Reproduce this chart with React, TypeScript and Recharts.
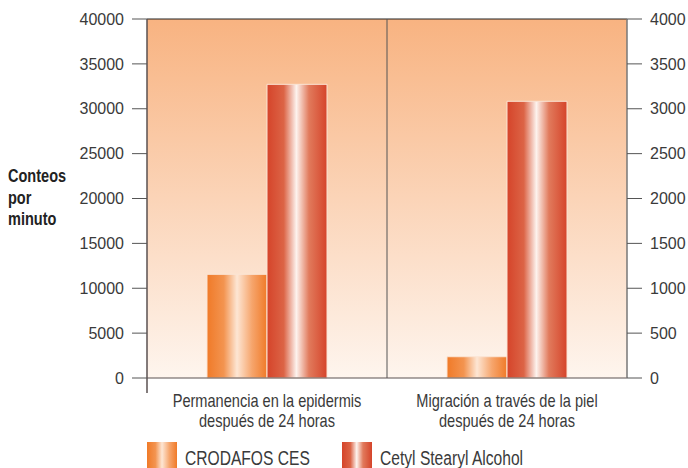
import React from "react";
import {
  BarChart,
  Bar,
  XAxis,
  YAxis,
  CartesianGrid,
  ReferenceLine,
} from "recharts";

const categories = [
  "Permanencia en la epidermis",
  "Migración a través de la piel",
];
const categorySubtitle = "después de 24 horas";
const categoryAxis = ["left", "right"]; // which count scale each group is read on
const seriesNames = ["CRODAFOS CES", "Cetyl Stearyl Alcohol"];
const crodafosValues = [11550, 237];
const cetylValues = [32720, 3083];
const leftTicks = [0, 5000, 10000, 15000, 20000, 25000, 30000, 35000, 40000];
const rightTicks = [0, 500, 1000, 1500, 2000, 2500, 3000, 3500, 4000];

const data = categories.map((name, i) => ({
  name,
  crodafosLeft: categoryAxis[i] === "left" ? crodafosValues[i] : null,
  crodafosRight: categoryAxis[i] === "right" ? crodafosValues[i] : null,
  cetylLeft: categoryAxis[i] === "left" ? cetylValues[i] : null,
  cetylRight: categoryAxis[i] === "right" ? cetylValues[i] : null,
}));

const W = 688;
const H = 468;
const PLOT_LEFT = 147;
const PLOT_RIGHT = 627;
const PLOT_TOP = 19;
const PLOT_BOTTOM = 378;

// no condensed face installed, so the regular one is squeezed horizontally
const SANS = '"Liberation Sans", Arial, sans-serif';
const TEXT = "#3a3a3a";

const CRODAFOS_GRAD =
  "linear-gradient(to right, #f07a28 0%, #f39450 28%, #fde6d4 50%, #f6a56c 75%, #f07a28 100%)";
const CETYL_GRAD =
  "linear-gradient(to right, #d5442a 0%, #dc6446 28%, #fdf3ee 49%, #e17a5c 70%, #d5442a 100%)";

const CategoryTick = (props: any) => {
  const { x, y, payload } = props;
  return (
    <text
      transform={`translate(${x},${y}) scale(0.81,1)`}
      textAnchor="middle"
      fill={TEXT}
      fontFamily={SANS}
      fontSize={18}
    >
      <tspan x={0} dy={29}>
        {payload.value}
      </tspan>
      <tspan x={0} dy={20.5}>
        {categorySubtitle}
      </tspan>
    </text>
  );
};

// left axis line runs a little below the baseline in the original
const AxisExtension = () => (
  <line
    x1={PLOT_LEFT}
    x2={PLOT_LEFT}
    y1={PLOT_BOTTOM}
    y2={PLOT_BOTTOM + 15}
    stroke="#5a5050"
    strokeWidth={1.5}
  />
);

export default function App() {
  return (
    <div
      style={{
        position: "absolute",
        left: 0,
        top: 0,
        width: W,
        height: H,
        background: "#fff",
        overflow: "hidden",
      }}
    >
      <BarChart
        width={W}
        height={H}
        data={data}
        margin={{ top: PLOT_TOP, right: 0, bottom: 0, left: 0 }}
        barCategoryGap="25%"
        barGap={0}
      >
        <defs>
          <linearGradient id="bg" x1="0" y1="0" x2="0" y2="1">
            <stop offset="0%" stopColor="#f8b381" />
            <stop offset="100%" stopColor="#fef5ee" />
          </linearGradient>
          <linearGradient id="crodafos" x1="0" y1="0" x2="1" y2="0">
            <stop offset="0%" stopColor="#f07a28" />
            <stop offset="28%" stopColor="#f39450" />
            <stop offset="50%" stopColor="#fde6d4" />
            <stop offset="75%" stopColor="#f6a56c" />
            <stop offset="100%" stopColor="#f07a28" />
          </linearGradient>
          <linearGradient id="cetyl" x1="0" y1="0" x2="1" y2="0">
            <stop offset="0%" stopColor="#d5442a" />
            <stop offset="28%" stopColor="#dc6446" />
            <stop offset="49%" stopColor="#fdf3ee" />
            <stop offset="70%" stopColor="#e17a5c" />
            <stop offset="100%" stopColor="#d5442a" />
          </linearGradient>
        </defs>
        <CartesianGrid
          yAxisId="left"
          horizontal={false}
          vertical={false}
          fill="url(#bg)"
          fillOpacity={1}
        />
        <XAxis
          dataKey="name"
          height={H - PLOT_BOTTOM}
          tickLine={false}
          tickSize={0}
          tickMargin={0}
          axisLine={{ stroke: "#5a5050", strokeWidth: 1 }}
          tick={<CategoryTick />}
          interval={0}
        />
        <YAxis
          yAxisId="left"
          orientation="left"
          width={PLOT_LEFT}
          domain={[0, 40000]}
          ticks={leftTicks}
          tickSize={15}
          tickMargin={8}
          axisLine={{ stroke: "#5a5050", strokeWidth: 1.5 }}
          tickLine={{ stroke: "#555" }}
          tick={{ fill: TEXT, fontFamily: SANS, fontSize: 16 }}
        />
        <YAxis
          yAxisId="right"
          orientation="right"
          width={W - PLOT_RIGHT}
          domain={[0, 4000]}
          ticks={rightTicks}
          tickSize={15}
          tickMargin={8}
          axisLine={{ stroke: "#777", strokeWidth: 1.5 }}
          tickLine={{ stroke: "#555" }}
          tick={{
            fill: TEXT,
            fontFamily: SANS,
            fontSize: 16,
            textAnchor: "start",
          }}
        />
        <ReferenceLine yAxisId="left" y={40000} stroke="#222" strokeWidth={1} />
        <ReferenceLine
          yAxisId="left"
          x={categories[0]}
          position="end"
          stroke="#555"
          strokeWidth={1}
        />
        <Bar
          name={seriesNames[0]}
          dataKey="crodafosLeft"
          yAxisId="left"
          stackId="crodafos"
          fill="url(#crodafos)"
          stroke="#fbe4d4"
          strokeWidth={1}
          isAnimationActive={false}
        />
        <Bar
          name={seriesNames[0]}
          dataKey="crodafosRight"
          yAxisId="right"
          stackId="crodafos"
          fill="url(#crodafos)"
          stroke="#fbe4d4"
          strokeWidth={1}
          isAnimationActive={false}
        />
        <Bar
          name={seriesNames[1]}
          dataKey="cetylLeft"
          yAxisId="left"
          stackId="cetyl"
          fill="url(#cetyl)"
          stroke="#fbe4d4"
          strokeWidth={1}
          isAnimationActive={false}
        />
        <Bar
          name={seriesNames[1]}
          dataKey="cetylRight"
          yAxisId="right"
          stackId="cetyl"
          fill="url(#cetyl)"
          stroke="#fbe4d4"
          strokeWidth={1}
          isAnimationActive={false}
        />
        <AxisExtension />
      </BarChart>

      <div
        style={{
          position: "absolute",
          left: 8,
          top: 166,
          fontFamily: SANS,
          fontWeight: "bold",
          fontSize: 17.5,
          lineHeight: "21.5px",
          color: "#222",
          transform: "scaleX(0.83)",
          transformOrigin: "left top",
        }}
      >
        Conteos
        <br />
        por
        <br />
        minuto
      </div>

      {seriesNames.map((name, i) => (
        <div
          key={name}
          style={{
            position: "absolute",
            left: i === 0 ? PLOT_LEFT : 342,
            top: 442,
            display: "flex",
            alignItems: "flex-start",
            whiteSpace: "nowrap",
          }}
        >
          <div
            style={{
              width: 30,
              height: 28,
              background: i === 0 ? CRODAFOS_GRAD : CETYL_GRAD,
              marginRight: 8,
            }}
          />
          <span
            style={{
              display: "inline-block",
              fontFamily: SANS,
              fontSize: 20,
              lineHeight: "20px",
              marginTop: 6,
              color: TEXT,
              transform: "scaleX(0.78)",
              transformOrigin: "left top",
            }}
          >
            {name}
          </span>
        </div>
      ))}
    </div>
  );
}
